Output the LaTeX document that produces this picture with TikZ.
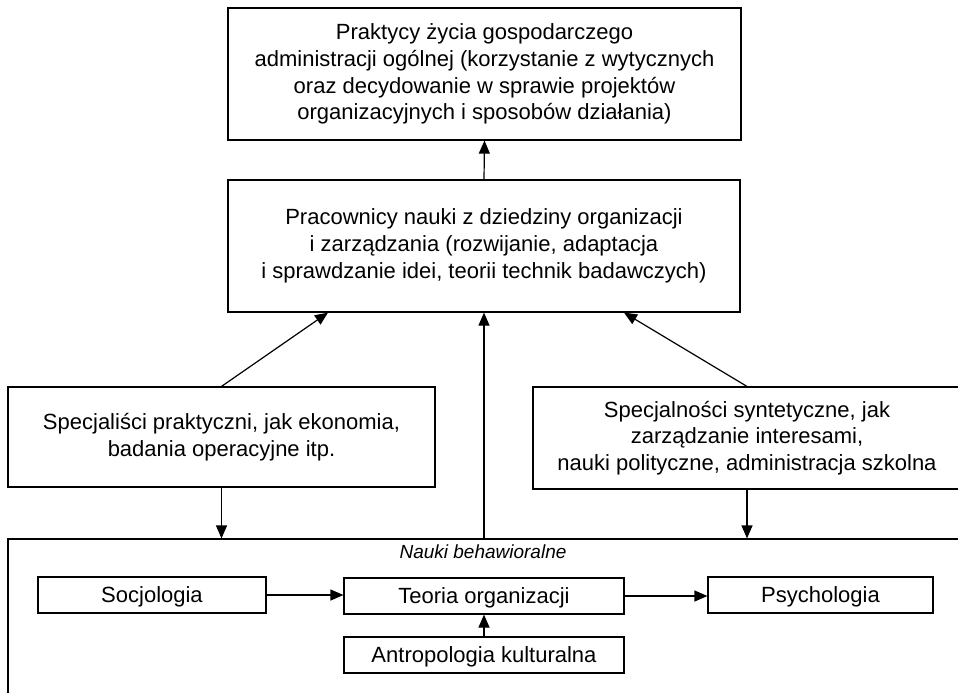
\documentclass[tikz,border=0pt]{standalone}
\usepackage{fontspec}
\setmainfont{Liberation Sans}
\usepackage{tikz}
\usetikzlibrary{arrows.meta}
\usetikzlibrary{calc}

\tikzset{
  box/.style={draw, rectangle, inner sep=0pt, align=center,
    font=\fontsize{11}{13.4}\selectfont},
  smallbox/.style={box, minimum height=18pt, text height=0.72em, text depth=0pt},
}

\begin{document}
\begin{tikzpicture}[x=0.5pt, y=-0.5pt, line width=0.6pt,
    >={Triangle[length=6.5pt, width=5.5pt]}]
      \useasboundingbox (0,0) rectangle (958,692);
      \clip (0,0) rectangle (958,692);

      % boxes
      \node [box, name=top, minimum width=256.5pt, minimum height=66pt]
      at (484.5,74) {Praktycy życia gospodarczego\\
        administracji ogólnej (korzystanie z wytycznych\\
        oraz decydowanie w sprawie projektów\\
        organizacyjnych i sposobów działania)};
      \node [box, name=mid, minimum width=256pt, minimum height=66pt]
      at (484,246) {Pracownicy nauki z dziedziny organizacji\\
        i zarządzania (rozwijanie, adaptacja\\
        i sprawdzanie idei, teorii technik badawczych)};
      \node [box, name=lbox, minimum width=213.5pt, minimum height=50pt]
      at (221.5,437) {Specjaliści praktyczni, jak ekonomia,\\
        badania operacyjne itp.};
      \node [box, name=rbox, minimum width=214pt, minimum height=51pt]
      at (747,438) {Specjalności syntetyczne, jak\\
        zarządzanie interesami,\\
        nauki polityczne, administracja szkolna};

      % behavioral sciences
      \node [draw, rectangle, name=behav, minimum width=477pt,
      minimum height=80.5pt] at (485,619.5) {};
      \node [name=behavlabel, font=\fontsize{9.5}{11}\selectfont\itshape]
      at (483,552) {Nauki behawioralne};
      \node [smallbox, name=socjo, minimum width=114pt] at (152,595) {Socjologia};
      \node [smallbox, name=teoria, minimum width=140pt] at (484,596) {Teoria organizacji};
      \node [smallbox, name=psycho, minimum width=112.5pt] at (820.5,595) {Psychologia};
      \node [smallbox, name=antro, minimum width=140pt] at (484,655) {Antropologia kulturalna};

      % arrows
      \draw [->] (mid.north) -- (top.south);
      \draw [->] (lbox.north) -- ($(mid.south) + (-156,0)$);
      \draw [->] (rbox.north) -- ($(mid.south) + (140,0)$);
      \draw [->] (behav.north -| mid.south) -- (mid.south);
      \draw [->] (lbox.south) -- (lbox.south |- behav.north);
      \draw [->] (rbox.south) -- (rbox.south |- behav.north);
      \draw [->] (socjo.east) -- (socjo.east -| teoria.west);
      \draw [->] (teoria.east) -- (teoria.east -| psycho.west);
      \draw [->] (antro.north) -- (teoria.south);
\end{tikzpicture}
\end{document}
